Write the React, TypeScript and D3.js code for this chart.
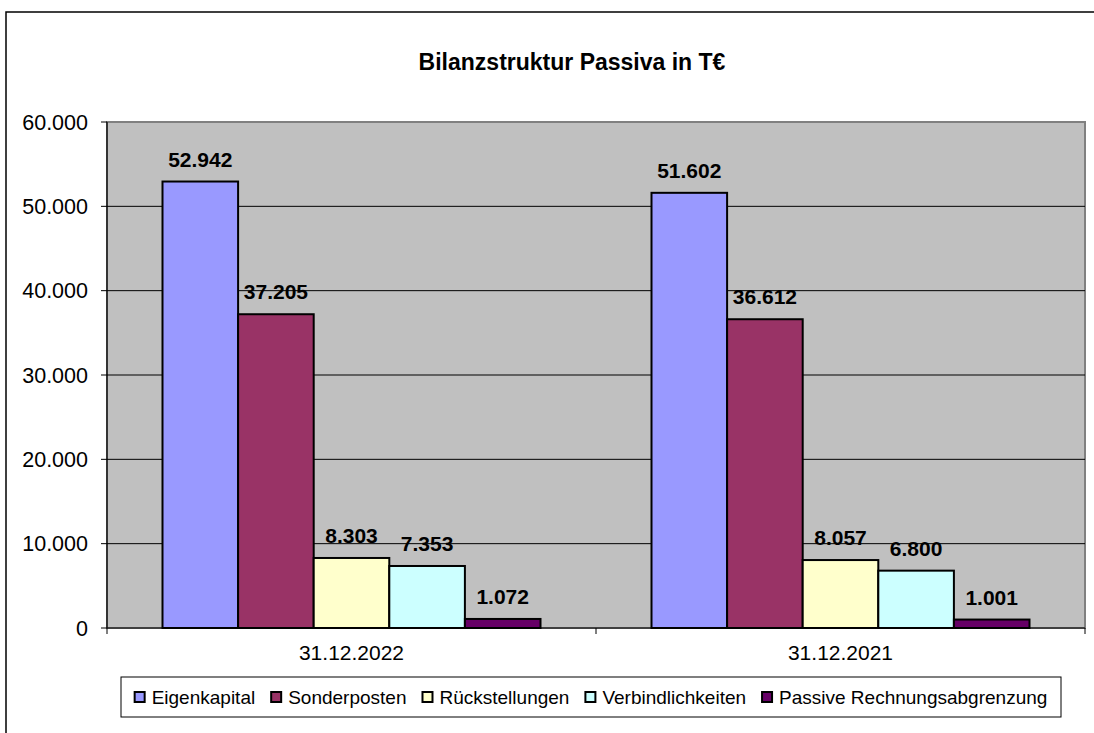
import React from "react";
import * as d3 from "d3";

const categories = ["31.12.2022", "31.12.2021"];
const seriesNames = [
  "Eigenkapital",
  "Sonderposten",
  "Rückstellungen",
  "Verbindlichkeiten",
  "Passive Rechnungsabgrenzung",
];
const seriesColors = ["#9999FF", "#993366", "#FFFFCC", "#CCFFFF", "#660066"];
const values2022 = [52942, 37205, 8303, 7353, 1072];
const values2021 = [51602, 36612, 8057, 6800, 1001];
const yTicks = [0, 10000, 20000, 30000, 40000, 50000, 60000];
const title = "Bilanzstruktur Passiva in T€";

const FONT = "'Liberation Sans', Arial, sans-serif";

const locale = d3.formatLocale({ decimal: ",", thousands: ".", grouping: [3], currency: ["", "€"] });
const fmt = locale.format(",d");

function measure(text: string, size: number, bold = false) {
  const c = document.createElement("canvas").getContext("2d")!;
  c.font = `${bold ? "bold " : ""}${size}px ${FONT}`;
  return c.measureText(text).width;
}

export default function App() {
  const W = 1094;
  const H = 733;
  const plot = { left: 107, right: 1085, top: 122, bottom: 628 };
  const data = [values2022, values2021];

  const x0 = d3.scaleBand().domain(categories).range([plot.left, plot.right]).paddingInner(0).paddingOuter(0);
  const groupFrac = 378 / 489;
  const x1 = d3
    .scaleBand()
    .domain(seriesNames)
    .range([0, x0.bandwidth() * groupFrac]);
  const groupOffset = (x0.bandwidth() * (1 - groupFrac)) / 2;
  const y = d3.scaleLinear().domain([0, 60000]).range([plot.bottom, plot.top]);

  // legend layout
  const legendFont = 19;
  const markerSize = 10;
  const markerGap = 7;
  const itemGap = 16;
  const widths = seriesNames.map((s) => measure(s, legendFont));
  const totalW = widths.reduce((a, w) => a + markerSize + markerGap + w, 0) + itemGap * (seriesNames.length - 1);
  const legendBox = { x: 121, y: 677, w: 940, h: 40 };
  let cursor = legendBox.x + (legendBox.w - totalW) / 2;
  const legendItems = seriesNames.map((s, i) => {
    const item = { name: s, color: seriesColors[i], x: cursor };
    cursor += markerSize + markerGap + widths[i] + itemGap;
    return item;
  });

  return (
    <svg width={W} height={H} style={{ position: "absolute", left: 0, top: 0, background: "#fff" }} fontFamily={FONT}>
      <rect x={6} y={12} width={3000} height={3000} fill="#fff" stroke="#000" strokeWidth={1.5} />
      <text x={572} y={70} textAnchor="middle" fontSize={23} fontWeight="bold">
        {title}
      </text>
      {/* plot area */}
      <rect
        x={plot.left}
        y={plot.top}
        width={plot.right - plot.left}
        height={plot.bottom - plot.top}
        fill="#C0C0C0"
        stroke="#808080"
        strokeWidth={2}
      />
      {yTicks
        .filter((t) => t > 0 && t < 60000)
        .map((t) => (
          <line key={t} x1={plot.left} x2={plot.right} y1={y(t)} y2={y(t)} stroke="#000" strokeWidth={1} />
        ))}
      {/* bars */}
      {categories.map((c, ci) =>
        seriesNames.map((s, si) => {
          const v = data[ci][si];
          const bx = x0(c)! + groupOffset + x1(s)!;
          return (
            <g key={c + s}>
              <rect
                x={bx}
                y={y(v)}
                width={x1.bandwidth()}
                height={plot.bottom - y(v)}
                fill={seriesColors[si]}
                stroke="#000"
                strokeWidth={2}
              />
              <text
                x={bx + x1.bandwidth() / 2}
                y={y(v) - 15}
                textAnchor="middle"
                fontSize={21}
                fontWeight="bold"
              >
                {fmt(v)}
              </text>
            </g>
          );
        })
      )}
      {/* axes */}
      <line x1={plot.left} x2={plot.left} y1={plot.top} y2={plot.bottom} stroke="#000" strokeWidth={1.2} />
      <line x1={plot.left} x2={plot.right} y1={plot.bottom} y2={plot.bottom} stroke="#000" strokeWidth={1.2} />
      {yTicks.map((t) => (
        <g key={t}>
          <line x1={plot.left - 6} x2={plot.left} y1={y(t)} y2={y(t)} stroke="#000" />
          <text x={88} y={y(t)} dy="0.35em" textAnchor="end" fontSize={21.5}>
            {fmt(t)}
          </text>
        </g>
      ))}
      {[plot.left, ...categories.map((c) => x0(c)! + x0.bandwidth())].map((xx, i) => (
        <line key={i} x1={xx} x2={xx} y1={plot.bottom} y2={plot.bottom + 6} stroke="#000" />
      ))}
      {categories.map((c) => (
        <text key={c} x={x0(c)! + x0.bandwidth() / 2} y={660} textAnchor="middle" fontSize={21}>
          {c}
        </text>
      ))}
      {/* legend */}
      <rect x={legendBox.x} y={legendBox.y} width={legendBox.w} height={legendBox.h} fill="#fff" stroke="#000" strokeWidth={1} />
      {legendItems.map((it) => (
        <g key={it.name}>
          <rect
            x={it.x}
            y={legendBox.y + legendBox.h / 2 - markerSize / 2}
            width={markerSize}
            height={markerSize}
            fill={it.color}
            stroke="#000"
            strokeWidth={2}
          />
          <text x={it.x + markerSize + markerGap} y={legendBox.y + legendBox.h / 2} dy="0.35em" fontSize={legendFont}>
            {it.name}
          </text>
        </g>
      ))}
    </svg>
  );
}
